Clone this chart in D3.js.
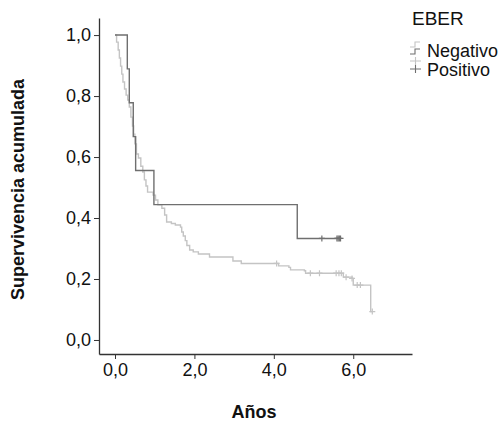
<!DOCTYPE html>
<html>
<head>
<meta charset="utf-8">
<script src="https://cdn.jsdelivr.net/npm/d3@7"></script>
<style>
  body { margin: 0; background: #fff; }
  text { font-family: "Liberation Sans Narrow", "Liberation Sans", Arial, sans-serif; }
</style>
</head>
<body>
<svg id="chart"></svg>
<script>
// survival steps: [years, cumulative survival]
let negTimes = [0, 0.04, 0.08, 0.11, 0.14, 0.17, 0.20, 0.24, 0.28, 0.32, 0.36, 0.40, 0.44, 0.47, 0.50, 0.54,
                0.59, 0.65, 0.70, 0.74, 0.78, 0.82, 0.96, 1.02, 1.08, 1.18, 1.25, 1.30, 1.42, 1.52, 1.65,
                1.68, 1.72, 1.77, 1.81, 1.88, 1.97, 2.10, 2.38, 2.97, 3.18, 4.12, 4.38, 4.42, 4.77, 4.80,
                5.75, 5.97, 6.00, 6.44, 6.48];
let negSurv  = [1.000, 0.977, 0.951, 0.925, 0.898, 0.872, 0.846, 0.823, 0.803, 0.787, 0.764, 0.731, 0.702, 0.675, 0.643, 0.610,
                0.597, 0.570, 0.551, 0.525, 0.505, 0.485, 0.475, 0.459, 0.443, 0.432, 0.410, 0.387, 0.382, 0.377, 0.370,
                0.354, 0.341, 0.326, 0.310, 0.295, 0.289, 0.282, 0.272, 0.259, 0.251, 0.243, 0.238, 0.230, 0.227, 0.219,
                0.206, 0.202, 0.180, 0.093, 0.093];
let negCensored = [4.07, 4.92, 5.15, 5.57, 5.64, 5.70, 5.82, 5.97, 6.10, 6.18, 6.48];

let posTimes = [0, 0.31, 0.36, 0.46, 0.52, 0.98, 4.59, 5.68];
let posSurv  = [1.000, 0.889, 0.778, 0.667, 0.556, 0.444, 0.333, 0.333];
let posCensored = [5.21, 5.59, 5.62, 5.65, 5.68];

let xTicks = [0, 2, 4, 6];
let yTicks = [0, 0.2, 0.4, 0.6, 0.8, 1.0];

let groups = ["Negativo", "Positivo"];
let colors = { Negativo: "#c4c4c4", Positivo: "#6f6f6f" };

function getConfig() {
  let width = 504;
  let height = 423;
  let margin = { top: 18, left: 99, right: 92, bottom: 69 };
  let bodyWidth = width - margin.left - margin.right;
  let bodyHeight = height - margin.top - margin.bottom;
  let container = d3.select("#chart")
    .attr("width", width)
    .attr("height", height);
  return { width, height, margin, bodyWidth, bodyHeight, container };
}

function getScales(config) {
  let { bodyWidth, bodyHeight } = config;
  let xScale = d3.scaleLinear()
    .domain([-0.403, 7.48])
    .range([0, bodyWidth]);
  let yScale = d3.scaleLinear()
    .domain([-0.046, 1.056])
    .range([bodyHeight, 0]);
  return { xScale, yScale };
}

let fmt = d => d3.format(".1f")(d).replace(".", ",");

function drawAxes(scales, config) {
  let { container, margin, bodyHeight, bodyWidth } = config;
  let { xScale, yScale } = scales;

  let xAxis = container.append("g")
    .attr("transform", `translate(${margin.left},${margin.top + bodyHeight})`)
    .call(d3.axisBottom(xScale).tickValues(xTicks).tickFormat(fmt).tickSize(5).tickSizeOuter(0).tickPadding(4));
  let yAxis = container.append("g")
    .attr("transform", `translate(${margin.left},${margin.top})`)
    .call(d3.axisLeft(yScale).tickValues(yTicks).tickFormat(fmt).tickSize(5).tickSizeOuter(0).tickPadding(3));

  [xAxis, yAxis].forEach(a => {
    a.select(".domain").attr("stroke", "#333").attr("stroke-width", 1.3);
    a.selectAll(".tick line").attr("stroke", "#333");
    a.selectAll(".tick text")
      .attr("fill", "#111")
      .style("font-size", "18px")
      .style("font-family", "'Liberation Sans Narrow', 'Liberation Sans', sans-serif");
  });

  container.append("text")
    .attr("x", margin.left + xScale(3.5))
    .attr("y", 418)
    .attr("text-anchor", "middle")
    .style("font-size", "18px")
    .style("font-weight", "bold")
    .style("font-family", "'Liberation Sans', Arial, sans-serif")
    .attr("fill", "#111")
    .text("Años");

  container.append("text")
    .attr("transform", `translate(24,${margin.top + yScale(0.5) + 2}) rotate(-90)`)
    .attr("text-anchor", "middle")
    .style("font-size", "18px")
    .style("font-weight", "bold")
    .style("font-family", "'Liberation Sans', Arial, sans-serif")
    .attr("fill", "#111")
    .text("Supervivencia acumulada");
}

function plusPath(x, y, s) {
  return `M${x - s},${y}H${x + s}M${x},${y - s}V${y + s}`;
}

function drawCurves(scales, config) {
  let { container, margin } = config;
  let { xScale, yScale } = scales;
  let body = container.append("g")
    .attr("transform", `translate(${margin.left},${margin.top})`);

  let line = d3.line()
    .x(d => xScale(d[0]))
    .y(d => yScale(d[1]))
    .curve(d3.curveStepAfter);

  let series = [
    { name: "Negativo", times: negTimes, surv: negSurv, cens: negCensored },
    { name: "Positivo", times: posTimes, surv: posSurv, cens: posCensored }
  ];

  series.forEach(s => {
    let pts = s.times.map((t, i) => [t, s.surv[i]]);
    body.append("path")
      .datum(pts)
      .attr("fill", "none")
      .attr("stroke", colors[s.name])
      .attr("stroke-width", 1.4)
      .attr("d", line);

    // survival at a censoring time = level of last step before it
    let levelAt = t => {
      let idx = d3.bisectRight(s.times, t) - 1;
      return s.surv[Math.max(0, idx)];
    };
    body.selectAll(null)
      .data(s.cens)
      .enter()
      .append("path")
      .attr("d", t => plusPath(xScale(t), yScale(levelAt(t)), 3))
      .attr("stroke", colors[s.name])
      .attr("stroke-width", 1.2)
      .attr("fill", "none");
  });
}

function drawLegend(config) {
  let { container } = config;
  let lg = container.append("g");

  lg.append("text")
    .attr("x", 412)
    .attr("y", 25)
    .style("font-size", "19px")
    .attr("fill", "#111")
    .text("EBER");

  let stepGlyph = (x, y) => `M${x},${y + 3}H${x + 5}V${y - 2}H${x + 10}`;

  // step glyphs
  groups.forEach((g, i) => {
    lg.append("path")
      .attr("d", stepGlyph(410, 44 + i * 7))
      .attr("stroke", colors[g])
      .attr("stroke-width", 1.1)
      .attr("fill", "none");
  });
  // censor glyphs
  groups.forEach((g, i) => {
    lg.append("path")
      .attr("d", `M410,${61 + i * 8}H421M415.5,${57 + i * 8}V${65 + i * 8}`)
      .attr("stroke", colors[g])
      .attr("stroke-width", 1.1)
      .attr("fill", "none");
  });

  groups.forEach((g, i) => {
    lg.append("text")
      .attr("x", 427)
      .attr("y", 57 + i * 19)
      .style("font-size", "18px")
      .attr("fill", "#111")
      .text(g);
  });
}

function drawChart() {
  let config = getConfig();
  let scales = getScales(config);
  drawAxes(scales, config);
  drawCurves(scales, config);
  drawLegend(config);
}

drawChart();
</script>
</body>
</html>
